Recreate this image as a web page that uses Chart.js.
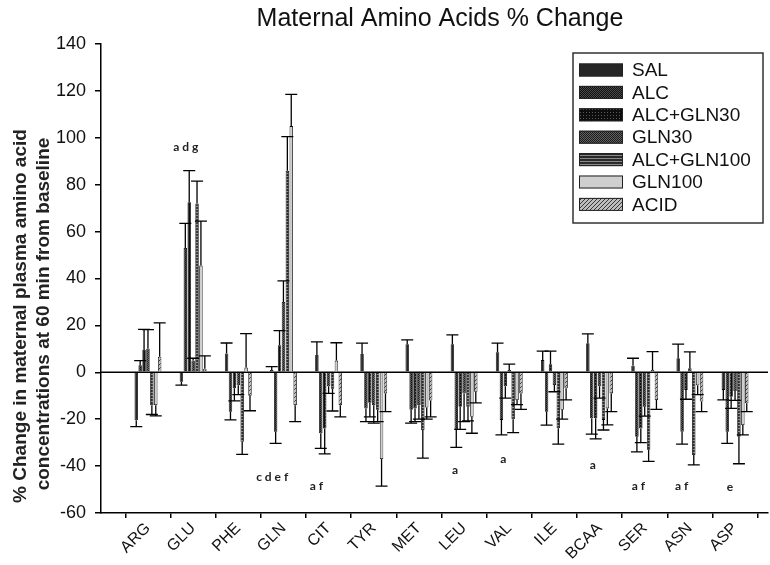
<!DOCTYPE html>
<html><head><meta charset="utf-8">
<script src="https://cdn.jsdelivr.net/npm/chart.js@4.4.0/dist/chart.umd.min.js"></script>
<style>html,body{margin:0;padding:0;background:#fff;}#wrap{width:770px;height:565px;}</style>
</head><body><div id="wrap"><canvas id="c" width="770" height="565"></canvas></div>
<script>
// ---------------- DATA ----------------
const categories = ['ARG','GLU','PHE','GLN','CIT','TYR','MET','LEU','VAL','ILE','BCAA','SER','ASN','ASP'];
const seriesNames = ['SAL','ALC','ALC+GLN30','GLN30','ALC+GLN100','GLN100','ACID'];
const yTicks = [-60,-40,-20,0,20,40,60,80,100,120,140];

const SAL        = [-20.5, -4, 8, 1, 7.4, 7.8, 12, 12, 8.5, 5.2, 12.4, 2.8, 6, -7.5];
const SAL_ERR    = [2.7, 1.5, 4.5, 1.4, 5.6, 4.6, 1.8, 4, 3.9, 3.8, 4, 3.2, 6, 4.3];
const ALC        = [3, 53, -16.8, -25.3, -26, -15.4, -16, -24.6, -20.3, -16.8, -19.6, -27.5, -25.3, -25.3];
const ALC_ERR    = [2, 10.5, 3.5, 5, 6.4, 5.6, 5.7, 7.4, 6.4, 5.7, 6.8, 6.4, 5.3, 5];
const ALC_GLN30  = [9.5, 72.5, -6.8, 11.5, -24, -13, -15.4, -14.7, -6, 3.4, -19.6, -24, -7.5, -10.4];
const ALC_GLN30_ERR = [8.8, 13.5, 5.4, 6.3, 10.8, 6, 5.6, 9.6, 5, 5.6, 8.8, 6, 4, 5];
const GLN30      = [10.2, 5, -5.5, 30, -6, -14, -14, -9, 1, -5.4, -6, -14.7, 1.7, -8];
const GLN30_ERR  = [8, 1, 4, 9, 3, 7.7, 6, 12, 2.5, 2.9, 5, 4, 7, 4];
const ALC_GLN100 = [-14, 72, -29.6, 86, -7, -16, -24.6, -14.7, -20, -23.9, -20.3, -33, -35.3, -27.5];
const ALC_GLN100_ERR = [4, 9.5, 5.4, 14.5, 9.5, 5, 12, 6, 5.7, 6.7, 4.3, 5, 4.2, 11.5];
const GLN100     = [-14, 45.5, 2, 105, 5, -37, -15, -19, -11.8, -16, -15.4, 1, -5.5, -22.5];
const GLN100_ERR = [4.6, 19, 14.5, 13.5, 7.6, 11.5, 5, 7, 2, 4, 7, 7.8, 4, 4.2];
const ACID       = [6.6, 1.5, -10, -14, -14, -9, -12, -8.3, -9, -6.8, -9, -11.8, -12.5, -13.2];
const ACID_ERR   = [14.5, 5.5, 6.4, 7, 5, 7.8, 7, 4.7, 6.8, 5, 7.8, 4, 4.3, 3.6];

// significance letters: category position, value, text
const sigCats   = [0.84, 2.75, 3.73, 6.8, 7.87, 9.85, 10.86, 11.82, 12.89];
const sigValues = [96, -44.6, -48.5, -41.7, -36.9, -39.5, -48.5, -48.5, -49];
const sigTexts  = ['a d g', 'c d e f', 'a f', 'a', 'a', 'a', 'a f', 'a f', 'e'];

const seriesValues = [SAL, ALC, ALC_GLN30, GLN30, ALC_GLN100, GLN100, ACID];
const seriesErrors = [SAL_ERR, ALC_ERR, ALC_GLN30_ERR, GLN30_ERR, ALC_GLN100_ERR, GLN100_ERR, ACID_ERR];

// ---------------- PATTERNS ----------------
function makePattern(kind) {
  const c = document.createElement('canvas');
  const g = c.getContext('2d');
  if (kind === 0) { c.width = c.height = 4; g.fillStyle = '#262626'; g.fillRect(0,0,4,4); }
  else if (kind === 1) { c.width = c.height = 4; g.fillStyle = '#4a4a4a'; g.fillRect(0,0,4,4);
    g.fillStyle = '#111'; for (let i=0;i<4;i++){ g.fillRect(i,3-i,1,1); g.fillRect((i+2)%4,3-i,1,1);} }
  else if (kind === 2) { c.width = c.height = 3; g.fillStyle = '#0d0d0d'; g.fillRect(0,0,3,3);
    g.fillStyle = '#5a5a5a'; g.fillRect(1,1,1,1); }
  else if (kind === 3) { c.width = c.height = 4; g.fillStyle = '#606060'; g.fillRect(0,0,4,4);
    g.fillStyle = '#1c1c1c'; for (let i=0;i<4;i++){ g.fillRect(i,i,1,1); g.fillRect((i+2)%4,i,1,1);} }
  else if (kind === 4) { c.width = 4; c.height = 3; g.fillStyle = '#8a8a8a'; g.fillRect(0,0,4,3);
    g.fillStyle = '#2a2a2a'; g.fillRect(0,0,4,2); }
  else if (kind === 5) { c.width = c.height = 4; g.fillStyle = '#cfcfcf'; g.fillRect(0,0,4,4); }
  else { c.width = c.height = 4; g.fillStyle = '#bdbdbd'; g.fillRect(0,0,4,4);
    g.fillStyle = '#3a3a3a'; for (let i=0;i<4;i++){ g.fillRect(i,3-i,1,1);} }
  return g.createPattern(c, 'repeat');
}
const patterns = seriesNames.map((_, k) => makePattern(k));

// ---------------- PLUGIN: decorations ----------------
const decor = {
  id: 'decor',
  beforeDatasetsDraw(chart) {
    const {ctx, chartArea, scales} = chart;
    const y0 = scales.y.getPixelForValue(0);
    ctx.save();
    ctx.strokeStyle = '#000'; ctx.lineWidth = 1.5;
    ctx.beginPath(); ctx.moveTo(chartArea.left, y0); ctx.lineTo(chartArea.right, y0); ctx.stroke();
    ctx.restore();
  },
  afterDatasetsDraw(chart) {
    const {ctx, scales} = chart;
    ctx.save();
    ctx.strokeStyle = '#000'; ctx.lineWidth = 1.3;
    chart.data.datasets.forEach((ds, k) => {
      const meta = chart.getDatasetMeta(k);
      meta.data.forEach((bar, i) => {
        const v = seriesValues[k][i], e = seriesErrors[k][i];
        const end = v >= 0 ? v + e : v - e;
        const yv = scales.y.getPixelForValue(v), ye = scales.y.getPixelForValue(end);
        const x = bar.x;
        ctx.beginPath(); ctx.moveTo(x, yv); ctx.lineTo(x, ye);
        ctx.moveTo(x - 6, ye); ctx.lineTo(x + 6, ye); ctx.stroke();
      });
    });
    ctx.restore();
  },
  afterDraw(chart) {
    const {ctx, scales} = chart;
    ctx.save();
    // title
    ctx.fillStyle = '#111';
    ctx.font = '25px "Liberation Sans", Arial, sans-serif';
    ctx.textAlign = 'center'; ctx.textBaseline = 'alphabetic';
    ctx.fillText('Maternal Amino Acids % Change', 440, 26);
    // y axis title (two lines)
    ctx.font = 'bold 19px "Liberation Sans", Arial, sans-serif';
    ctx.fillStyle = '#222';
    ctx.save(); ctx.translate(21, 316); ctx.rotate(-Math.PI/2);
    ctx.textBaseline = 'middle';
    ctx.fillText('% Change in maternal plasma amino acid', 0, 0); ctx.restore();
    ctx.save(); ctx.translate(44, 314); ctx.rotate(-Math.PI/2);
    ctx.textBaseline = 'middle';
    ctx.fillText('concentrations at 60 min from baseline', 0, 0); ctx.restore();
    // significance letters
    ctx.font = 'bold 12px Lato, "Open Sans", sans-serif';
    ctx.fillStyle = '#222'; ctx.textAlign = 'center'; ctx.textBaseline = 'middle';
    sigTexts.forEach((t, j) => {
      ctx.fillText(t, scales.x.getPixelForValue(sigCats[j]), scales.y.getPixelForValue(sigValues[j]));
    });
    // legend
    const bx = 573, by = 53, bw = 190, bh = 170;
    ctx.fillStyle = '#fff'; ctx.fillRect(bx, by, bw, bh);
    ctx.strokeStyle = '#333'; ctx.lineWidth = 1.5; ctx.strokeRect(bx, by, bw, bh);
    ctx.font = '19px "Liberation Sans", Arial, sans-serif';
    ctx.textAlign = 'left'; ctx.textBaseline = 'middle';
    seriesNames.forEach((name, k) => {
      const cy = 70 + k * 22.4;
      ctx.fillStyle = patterns[k]; ctx.fillRect(579, cy - 6.5, 44, 13);
      ctx.strokeStyle = '#222'; ctx.lineWidth = 1; ctx.strokeRect(579.5, cy - 6, 43, 12);
      ctx.fillStyle = '#111'; ctx.fillText(name, 632, cy + 1);
    });
    ctx.restore();
  }
};

// ---------------- CHART ----------------
const datasets = seriesNames.map((name, k) => ({
  label: name,
  data: seriesValues[k].map((v, i) => ({x: i, y: v})),
  backgroundColor: patterns[k],
  borderColor: '#000',
  borderWidth: 0.8,
  categoryPercentage: 0.605,
  barPercentage: 0.88
}));

new Chart(document.getElementById('c'), {
  type: 'bar',
  data: { datasets },
  options: {
    responsive: false, animation: false, devicePixelRatio: 1,
    layout: { padding: { left: 0, right: 2, top: 44, bottom: 0 } },
    plugins: { legend: { display: false }, title: { display: false }, tooltip: { enabled: false } },
    scales: {
      x: {
        type: 'linear', min: -1.04, max: 13.73, offset: false,
        afterBuildTicks: s => { s.ticks = categories.map((_, i) => ({ value: i })); },
        afterFit: s => { s.height = 52; },
        ticks: { autoSkip: false, maxRotation: 45, minRotation: 45, padding: 1,
          callback: v => categories[v] ?? '',
          font: { family: '"Liberation Sans", Arial, sans-serif', size: 16 }, color: '#111' },
        grid: { drawOnChartArea: false, drawTicks: true, tickLength: 5, color: '#000', lineWidth: 1.5 },
        border: { display: true, color: '#000', width: 1.5 }
      },
      y: {
        min: -60, max: 140,
        afterBuildTicks: s => { s.ticks = yTicks.map(v => ({ value: v })); },
        afterFit: s => { s.width = 101; },
        ticks: { padding: 9, font: { family: '"Liberation Sans", Arial, sans-serif', size: 18 }, color: '#111' },
        grid: { drawOnChartArea: false, drawTicks: true, tickLength: 6, color: '#000', lineWidth: 1.5 },
        border: { display: true, color: '#000', width: 1.5 }
      }
    }
  },
  plugins: [decor]
});
</script></body></html>
